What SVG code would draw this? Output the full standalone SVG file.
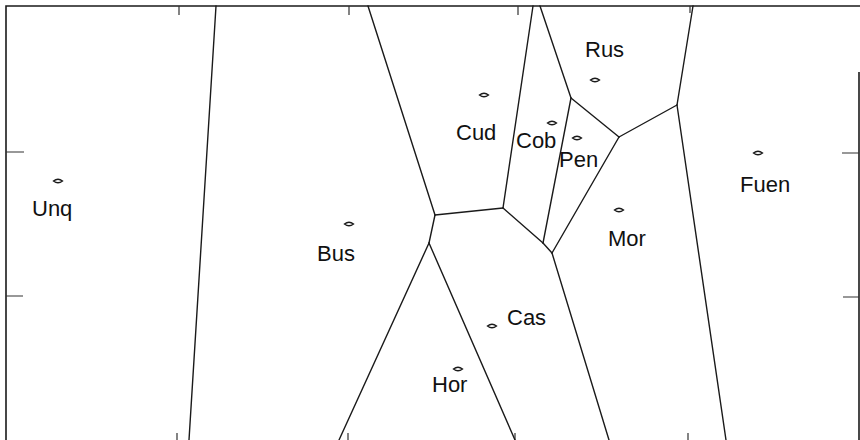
<svg xmlns="http://www.w3.org/2000/svg" width="860" height="440" viewBox="0 0 860 440">
<style>
.frame{stroke:#1a1a1a;stroke-width:1.6;fill:none}
.tick{stroke:#333;stroke-width:1.2;fill:none}
.edge{stroke:#1a1a1a;stroke-width:1.4;fill:none;stroke-linecap:round}
.site{stroke:#1a1a1a;stroke-width:1.4;fill:#fff}
.lbl{font-family:"Liberation Sans",Arial,sans-serif;font-size:22px;fill:#111}
</style>
<defs>
<path id="dia" d="M-4.5,0 Q0,-3.5 4.5,0 Q0,3.5 -4.5,0 Z"/>
</defs>
<rect width="860" height="440" fill="#fff"/>
<g id="frame">
<path class="frame" d="M6,440 V6 H860"/>
<path class="frame" d="M859,72 V440"/>
<path class="tick" d="M179,6 V15 M349,6 V15 M518,6 V15 M690,6 V13 M6,152 H24 M6,296 H23 M842,153 H859 M843,297 H859 M177,433 V440 M348,433 V440 M515,433 V440 M688,433 V440"/>
</g>
<g id="connectors">
<line class="edge" x1="216" y1="6" x2="189" y2="440"/>
<line class="edge" x1="368" y1="6" x2="435" y2="215"/>
<line class="edge" x1="435" y1="215" x2="503" y2="208"/>
<line class="edge" x1="533" y1="6" x2="503" y2="208"/>
<line class="edge" x1="503" y1="208" x2="543" y2="243"/>
<line class="edge" x1="543" y1="243" x2="552" y2="253"/>
<line class="edge" x1="540" y1="6" x2="571" y2="98"/>
<line class="edge" x1="571" y1="98" x2="543" y2="243"/>
<line class="edge" x1="571" y1="98" x2="619" y2="137"/>
<line class="edge" x1="619" y1="137" x2="677" y2="105"/>
<line class="edge" x1="693" y1="6" x2="677" y2="105"/>
<line class="edge" x1="677" y1="105" x2="726" y2="440"/>
<line class="edge" x1="619" y1="137" x2="552" y2="253"/>
<line class="edge" x1="552" y1="253" x2="609" y2="440"/>
<line class="edge" x1="435" y1="215" x2="429" y2="243"/>
<line class="edge" x1="429" y1="243" x2="339" y2="440"/>
<line class="edge" x1="429" y1="243" x2="515" y2="440"/>
</g>
<g id="Unq"><use href="#dia" class="site" x="58" y="181"/><text class="lbl" x="32" y="216">Unq</text></g>
<g id="Bus"><use href="#dia" class="site" x="349" y="224"/><text class="lbl" x="317" y="261">Bus</text></g>
<g id="Cud"><use href="#dia" class="site" x="484" y="95"/><text class="lbl" x="456" y="140">Cud</text></g>
<g id="Cob"><use href="#dia" class="site" x="552" y="123"/><text class="lbl" x="516" y="148">Cob</text></g>
<g id="Pen"><use href="#dia" class="site" x="577" y="138"/><text class="lbl" x="559" y="167">Pen</text></g>
<g id="Rus"><use href="#dia" class="site" x="595" y="80"/><text class="lbl" x="585" y="57">Rus</text></g>
<g id="Fuen"><use href="#dia" class="site" x="758" y="153"/><text class="lbl" x="740" y="192">Fuen</text></g>
<g id="Mor"><use href="#dia" class="site" x="619" y="210"/><text class="lbl" x="608" y="246">Mor</text></g>
<g id="Cas"><use href="#dia" class="site" x="492" y="326"/><text class="lbl" x="507" y="325">Cas</text></g>
<g id="Hor"><use href="#dia" class="site" x="458" y="369"/><text class="lbl" x="432" y="392">Hor</text></g>
</svg>
